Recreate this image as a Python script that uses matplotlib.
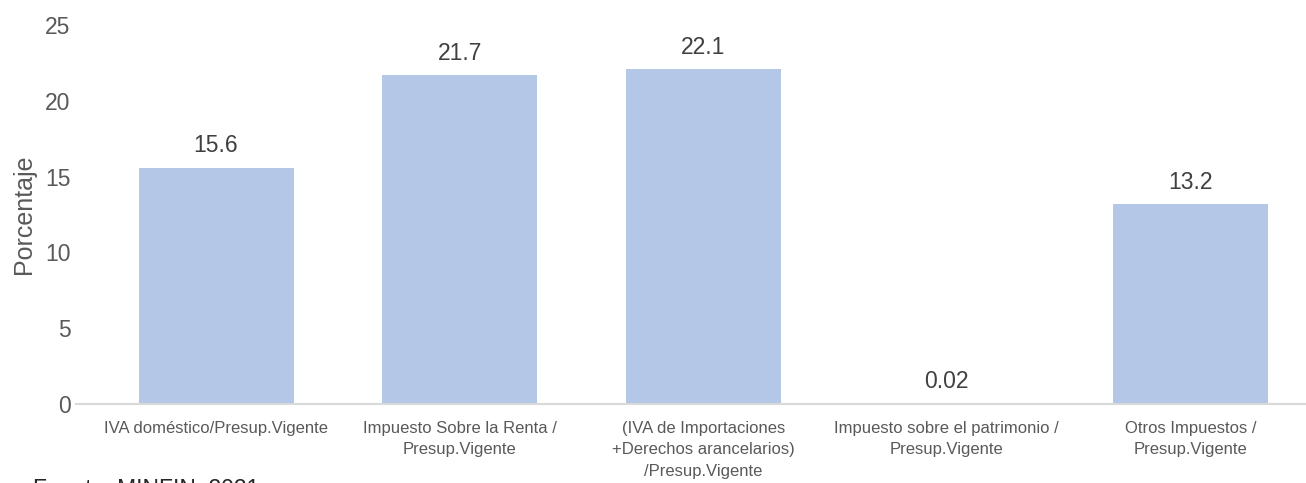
import matplotlib
matplotlib.use("Agg")
import matplotlib.pyplot as plt

categories = [
    "IVA doméstico/Presup.Vigente",
    "Impuesto Sobre la Renta /\nPresup.Vigente",
    "(IVA de Importaciones\n+Derechos arancelarios)\n/Presup.Vigente",
    "Impuesto sobre el patrimonio /\nPresup.Vigente",
    "Otros Impuestos /\nPresup.Vigente",
]
values = [15.6, 21.7, 22.1, 0.02, 13.2]
value_labels = ["15.6", "21.7", "22.1", "0.02", "13.2"]
yticks = [0, 5, 10, 15, 20, 25]

plt.rcParams['font.family'] = ['Liberation Sans', 'DejaVu Sans']
text_color = "#595959"

W, H = 1306, 483
fig = plt.figure(figsize=(W / 100, H / 100), dpi=100)
ax = fig.add_axes([76 / W, (H - 404) / H, (W - 76) / W, (404 - 25) / H])

x = list(range(len(categories)))
ax.bar(x, values, width=0.636, color="#b4c7e7", zorder=2)

for xi, v, lab in zip(x, values, value_labels):
    ax.annotate(lab, (xi, v), xytext=(0, 11), textcoords="offset points",
                ha="center", va="baseline", fontsize=16.5, color="#404040")

ax.set_xlim(-0.575, 4.475)
ax.set_ylim(0, 25)
ax.set_yticks(yticks)
ax.set_yticklabels([str(t) for t in yticks], fontsize=16.5, color=text_color)
ax.set_xticks(x)
ax.set_xticklabels(categories, fontsize=12, color=text_color, linespacing=1.55)
ax.tick_params(axis="both", length=0)
ax.tick_params(axis="y", pad=4)
ax.tick_params(axis="x", pad=12)

for s in ["top", "right", "left"]:
    ax.spines[s].set_visible(False)
ax.spines["bottom"].set_color("#d9d9d9")
ax.spines["bottom"].set_linewidth(1.5)

ax.set_ylabel("Porcentaje", fontsize=18, color=text_color)
ax.yaxis.set_label_coords(-0.0325, 0.5)

fig.text(33 / W, (H - 478) / H, "Fuente: MINFIN, 2021", fontsize=16.5,
         color="#262626", ha="left", va="top")

fig.savefig("out.png", dpi=100)
